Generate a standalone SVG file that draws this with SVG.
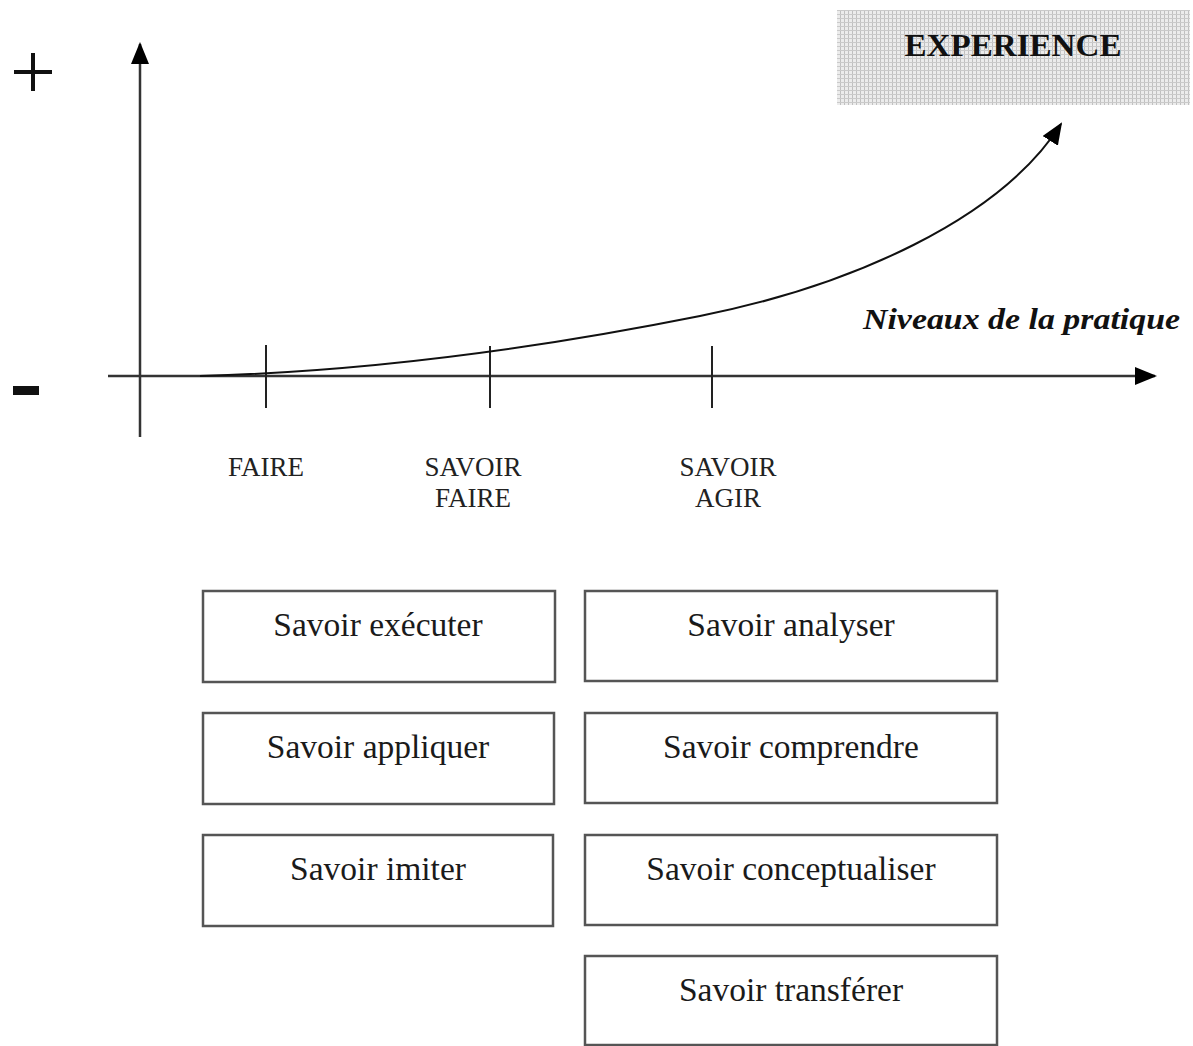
<svg xmlns="http://www.w3.org/2000/svg" width="1193" height="1046" viewBox="0 0 1193 1046">
<defs>
<pattern id="dots" width="4" height="4" patternUnits="userSpaceOnUse">
<rect width="4" height="4" fill="#ececec"/>
<rect x="0" y="0" width="1" height="4" fill="#c0c0c0"/>
<rect x="0" y="2" width="4" height="1" fill="#cacaca"/>
</pattern>
<marker id="arrBig" markerWidth="22" markerHeight="18" refX="20" refY="9" orient="auto" markerUnits="userSpaceOnUse" viewBox="0 0 22 18">
<path d="M0,0 L22,9 L0,18 Z" fill="#000"/>
</marker>
</defs>
<style>
.axis{stroke:#333;stroke-width:2.5;fill:none}
.tick{stroke:#222;stroke-width:2;fill:none}
.lbl{font-family:"Liberation Serif",serif;font-size:27px;fill:#222;text-anchor:middle}
.box rect{fill:#fff;stroke:#555;stroke-width:2.5}
.box text{font-family:"Liberation Serif",serif;font-size:33.5px;fill:#1a1a1a;text-anchor:middle}
</style>
<rect width="1193" height="1046" fill="#fff"/>
<g id="signs">
<path d="M14,72 H52 M33,53 V91" stroke="#111" stroke-width="4" fill="none"/>
<rect x="13" y="386" width="26" height="9" fill="#111"/>
</g>
<g id="connectors">
<line class="axis" x1="140" y1="437" x2="140" y2="44" marker-end="url(#arrBig)"/>
<line class="axis" x1="108" y1="376" x2="1155" y2="376" marker-end="url(#arrBig)"/>
<line class="tick" x1="266" y1="345" x2="266" y2="408"/>
<line class="tick" x1="490" y1="346" x2="490" y2="408"/>
<line class="tick" x1="712" y1="346" x2="712" y2="408"/>
<path d="M200,376 C350,372 520,352 700,316 C850,286 1000,220 1061,124" fill="none" stroke="#111" stroke-width="2" marker-end="url(#arrBig)"/>
</g>
<g id="experience">
<rect x="837" y="10" width="353" height="95" fill="url(#dots)"/>
<text x="1013" y="56" font-family="Liberation Serif,serif" font-weight="bold" font-size="31" text-anchor="middle" fill="#111" textLength="217" lengthAdjust="spacingAndGlyphs">EXPERIENCE</text>
</g>
<g id="axis-label">
<text x="863" y="329" font-family="Liberation Serif,serif" font-weight="bold" font-style="italic" font-size="29" fill="#111" textLength="317" lengthAdjust="spacingAndGlyphs">Niveaux de la pratique</text>
</g>
<g id="faire"><text class="lbl" x="266" y="476">FAIRE</text></g>
<g id="savoir-faire"><text class="lbl" x="473" y="476">SAVOIR</text><text class="lbl" x="473" y="507">FAIRE</text></g>
<g id="savoir-agir"><text class="lbl" x="728" y="476">SAVOIR</text><text class="lbl" x="728" y="507">AGIR</text></g>
<g id="executer" class="box"><rect x="203" y="591" width="352" height="91"/><text x="378" y="636">Savoir exécuter</text></g>
<g id="appliquer" class="box"><rect x="203" y="713" width="351" height="91"/><text x="378" y="758">Savoir appliquer</text></g>
<g id="imiter" class="box"><rect x="203" y="835" width="350" height="91"/><text x="378" y="880">Savoir imiter</text></g>
<g id="analyser" class="box"><rect x="585" y="591" width="412" height="90"/><text x="791" y="636">Savoir analyser</text></g>
<g id="comprendre" class="box"><rect x="585" y="713" width="412" height="90"/><text x="791" y="758">Savoir comprendre</text></g>
<g id="conceptualiser" class="box"><rect x="585" y="835" width="412" height="90"/><text x="791" y="880">Savoir conceptualiser</text></g>
<g id="transferer" class="box"><rect x="585" y="956" width="412" height="89"/><text x="791" y="1001">Savoir transférer</text></g>
</svg>
